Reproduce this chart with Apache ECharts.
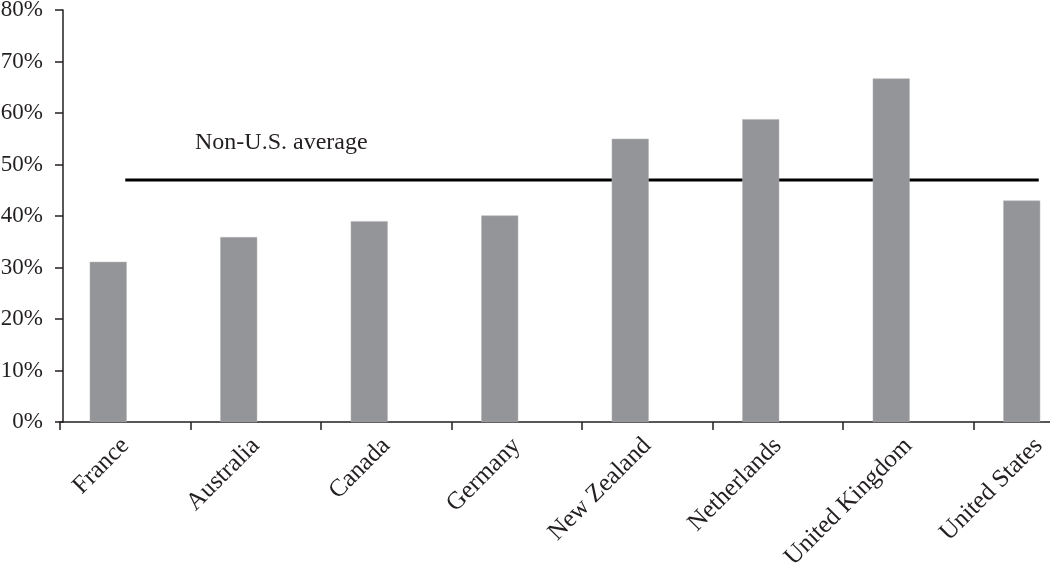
<!DOCTYPE html>
<html>
<head>
<meta charset="utf-8">
<script src="https://cdn.jsdelivr.net/npm/echarts@6/dist/echarts.min.js"></script>
<style>
  html, body { margin: 0; padding: 0; background: #ffffff; }
  #chart { width: 1050px; height: 569px; }
</style>
</head>
<body>
<div id="chart"></div>
<script>
const categories = ['France', 'Australia', 'Canada', 'Germany', 'New Zealand', 'Netherlands', 'United Kingdom', 'United States'];
const shareValues = [31.1, 35.9, 39.0, 40.1, 55.0, 58.8, 66.7, 43.0];
const nonUSAverage = 47.0;
const averageLine = categories.map(() => nonUSAverage);
const yTicks = [0, 10, 20, 30, 40, 50, 60, 70, 80];
const averageLabel = 'Non-U.S. average';

const FONT = '"Liberation Serif", "DejaVu Serif", serif';

const chart = echarts.init(document.getElementById('chart'), null, { renderer: 'canvas' });
chart.setOption({
  backgroundColor: '#ffffff',
  animation: false,
  grid: { left: 60, top: 10, width: 1044, height: 412, containLabel: false, outerBoundsMode: 'none' },
  xAxis: {
    type: 'category',
    data: categories,
    boundaryGap: true,
    axisLine: { show: true, lineStyle: { color: '#231f20', width: 1.5 } },
    axisTick: { show: true, length: 8, inside: false, lineStyle: { color: '#231f20', width: 1.5 } },
    axisLabel: {
      rotate: 45,
      margin: 20,
      color: '#231f20',
      fontFamily: FONT,
      fontSize: 25,
      interval: 0
    },
    splitLine: { show: false }
  },
  yAxis: {
    type: 'value',
    min: yTicks[0],
    max: yTicks[yTicks.length - 1],
    interval: 10,
    offset: -3,
    axisLine: { show: true, lineStyle: { color: '#231f20', width: 1.5 } },
    axisTick: { show: true, length: 8, inside: false, lineStyle: { color: '#231f20', width: 1.5 } },
    axisLabel: {
      margin: 20,
      color: '#231f20',
      fontFamily: FONT,
      fontSize: 23,
      formatter: v => v + '%'
    },
    splitLine: { show: false }
  },
  series: [
    {
      type: 'line',
      data: averageLine,
      z: 1,
      showSymbol: false,
      symbol: 'none',
      lineStyle: { color: '#000000', width: 3 },
      silent: true
    },
    {
      type: 'bar',
      data: shareValues,
      z: 3,
      barWidth: 37,
      barGap: '-8%',
      itemStyle: { color: '#939598', borderColor: '#b4b5b7', borderWidth: 0.5 }
    },
    {
      type: 'bar',
      data: [],
      barWidth: 37
    }
  ],
  graphic: [
    {
      type: 'text',
      left: 195,
      top: 131,
      style: {
        text: averageLabel,
        fontFamily: FONT,
        fontSize: 24,
        fill: '#231f20'
      }
    }
  ]
});
</script>
</body>
</html>
